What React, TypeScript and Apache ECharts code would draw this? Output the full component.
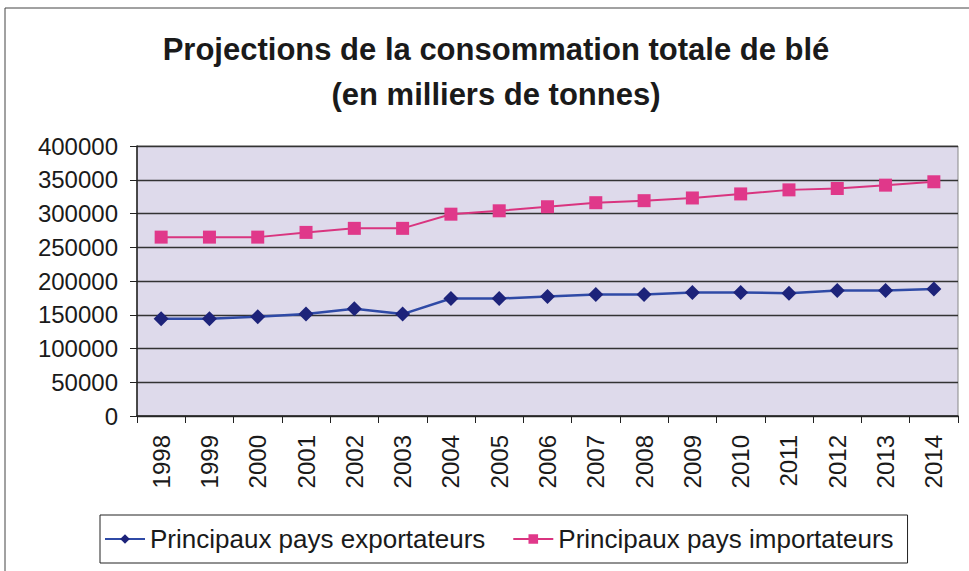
import React, { useEffect, useRef } from "react";
import * as echarts from "echarts";

const years = ["1998","1999","2000","2001","2002","2003","2004","2005","2006","2007","2008","2009","2010","2011","2012","2013","2014"];
const exportateurs = [144000,144000,147000,151000,159000,151000,174000,174000,177000,180000,180000,183000,183000,182000,186000,186000,188000];
const importateurs = [265000,265000,265000,272000,278000,278000,299000,304000,310000,316000,319000,323000,329000,335000,337000,342000,347000];
const seriesNames = ["Principaux pays exportateurs", "Principaux pays importateurs"];
const titleText = "Projections de la consommation totale de blé\n(en milliers de tonnes)";

export default function App() {
  const ref = useRef<HTMLDivElement>(null);
  useEffect(() => {
    document.body.style.margin = "0";
    const chart = echarts.init(ref.current!, null, { renderer: "svg" });
    const font = "'Liberation Sans', Arial, sans-serif";
    chart.setOption({
      animation: false,
      backgroundColor: "#ffffff",
      textStyle: { fontFamily: font },
      title: {
        text: titleText,
        left: 491,
        textAlign: "center",
        top: 22,
        textStyle: { fontSize: 31, fontWeight: "bold", color: "#1a1a1a", lineHeight: 45, fontFamily: font },
      },
      graphic: [
        { type: "rect", shape: { x: 5, y: 8, width: 970, height: 600 }, style: { fill: "none", stroke: "#444", lineWidth: 1 }, silent: true },
      ],
      legend: {
        left: 100,
        top: 515,
        width: 812,
        itemWidth: 40,
        itemHeight: 12,
        itemGap: 27,
        padding: [11, 14, 11, 4],
        borderColor: "#222",
        borderWidth: 1,
        textStyle: { fontSize: 26, color: "#1a1a1a", fontFamily: font },
        data: seriesNames,
      },
      grid: {
        left: 137,
        right: 11,
        top: 146,
        bottom: 155,
        show: true,
        backgroundColor: "#dedaeb",
        borderColor: "#888",
        borderWidth: 1,
      },
      xAxis: {
        type: "category",
        data: years,
        boundaryGap: true,
        axisLine: { lineStyle: { color: "#222", width: 1.5 } },
        axisTick: { show: true, inside: false, length: 7, lineStyle: { color: "#222" }, alignWithLabel: false, interval: 0 },
        axisLabel: { rotate: 90, fontSize: 24, color: "#1a1a1a", margin: 19, interval: 0, fontFamily: font },
      },
      yAxis: {
        type: "value",
        min: 0,
        max: 400000,
        interval: 50000,
        axisLine: { show: true, lineStyle: { color: "#222", width: 1.5 } },
        axisTick: { show: true, length: 7, lineStyle: { color: "#222" } },
        axisLabel: { fontSize: 24, color: "#1a1a1a", margin: 19, fontFamily: font, formatter: (v: number) => String(v) },
        splitLine: { show: true, lineStyle: { color: "#333", width: 1.3 } },
      },
      series: [
        {
          name: seriesNames[0],
          type: "line",
          data: exportateurs,
          symbol: "diamond",
          symbolSize: 15,
          lineStyle: { color: "#2f4aa6", width: 2.5 },
          itemStyle: { color: "#1d237a" },
          color: "#1d237a",
        },
        {
          name: seriesNames[1],
          type: "line",
          data: importateurs,
          symbol: "rect",
          symbolSize: 13,
          lineStyle: { color: "#d9347f", width: 2 },
          itemStyle: { color: "#e0388a" },
          color: "#e0388a",
        },
      ],
    });
    return () => chart.dispose();
  }, []);
  return <div ref={ref} style={{ width: 969, height: 571 }} />;
}
